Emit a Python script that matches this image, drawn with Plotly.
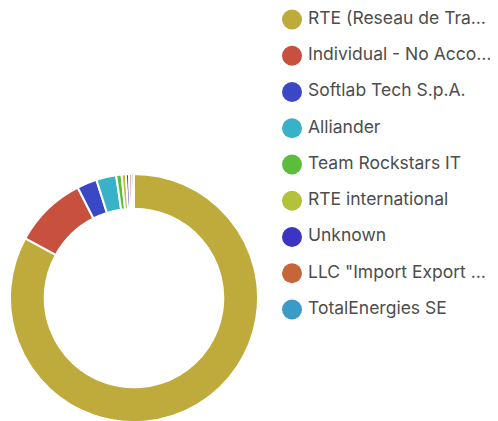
import plotly.graph_objects as go

labels = ["RTE (Reseau de Tra…", "Individual - No Acco…", "Softlab Tech S.p.A.", "Alliander",
          "Team Rockstars IT", "RTE international", "Unknown", "LLC \"Import Export …", "TotalEnergies SE"]
values = [83.0, 9.5, 2.6, 2.6, 0.7, 0.55, 0.4, 0.35, 0.3]
colors = ["#BFAB3B", "#C8503E", "#3A48C6", "#38B2C6", "#5CBC3C", "#B4C13A", "#3B34C4", "#C6653A", "#3A9BC6"]

rows = list(range(len(labels)))

fig = go.Figure()

fig.add_trace(go.Pie(labels=labels, values=values, hole=0.72, sort=False, direction="clockwise",
                     marker=dict(colors=colors, line=dict(color="white", width=2)),
                     textinfo="none", showlegend=False,
                     domain=dict(x=[0.004, 0.502], y=[0.0166, 0.6057])))

# legend drawn as a column of round markers + labels on a hidden axis
fig.add_trace(go.Scatter(x=[0] * len(labels), y=rows, mode="markers", showlegend=False, hoverinfo="skip",
                         marker=dict(color=colors, size=20, symbol="circle"), cliponaxis=False,
                         xaxis="x2", yaxis="y2"))
fig.add_trace(go.Scatter(x=[1] * len(labels), y=rows, mode="text", text=labels, textposition="middle right",
                         showlegend=False, hoverinfo="skip", cliponaxis=False,
                         textfont=dict(family="Inter", size=17.5, color="#4d4d4d"),
                         xaxis="x2", yaxis="y2"))

fig.update_layout(width=498, height=421, margin=dict(l=0, r=0, t=0, b=0),
                  paper_bgcolor="white", plot_bgcolor="white",
                  xaxis2=dict(visible=False, domain=[0.5, 1.0], range=[-2.1875, 13.375], fixedrange=True),
                  yaxis2=dict(visible=False, domain=[0, 1], range=[11.297, -0.317], fixedrange=True, anchor="x2"))

fig.write_html("out.html")
